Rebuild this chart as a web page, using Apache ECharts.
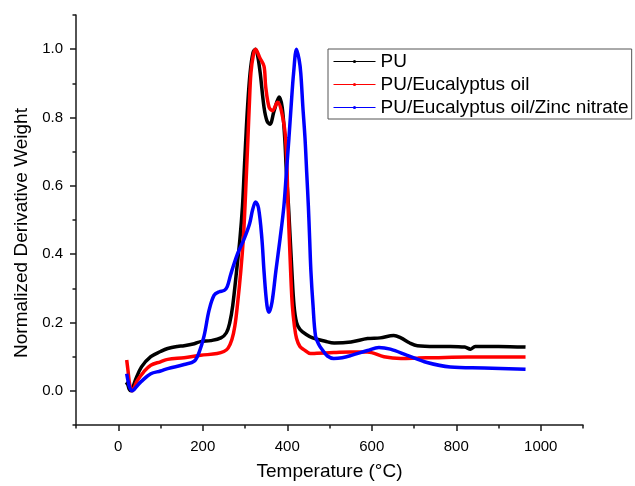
<!DOCTYPE html>
<html>
<head>
<meta charset="utf-8">
<script src="https://cdn.jsdelivr.net/npm/echarts@6/dist/echarts.min.js"></script>
<style>
  html, body { margin: 0; padding: 0; background: #fff; }
  #chart { width: 635px; height: 486px; }
</style>
</head>
<body>
<div id="chart"></div>
<script>
// temperatures (°C) and normalized DTG values
const puTemp = [18, 22, 26, 30, 40, 55, 77, 100, 117, 140, 156, 180, 195, 219, 243, 256, 264, 271, 280, 288, 294, 298, 302, 306, 312, 319, 325, 330, 336, 345, 352, 359, 369, 381, 388, 394, 398, 403, 411, 416, 422, 430, 445, 460, 490, 511, 551, 590, 620, 652, 669, 690, 708, 750, 786, 820, 834, 845, 900, 964];
const puVal = [0.025, 0.02, 0.005, 0.0, 0.03, 0.07, 0.10, 0.115, 0.124, 0.13, 0.132, 0.138, 0.144, 0.147, 0.155, 0.17, 0.20, 0.25, 0.35, 0.445, 0.54, 0.64, 0.74, 0.83, 0.93, 0.99, 1.0, 0.98, 0.93, 0.83, 0.79, 0.78, 0.82, 0.86, 0.83, 0.74, 0.64, 0.54, 0.35, 0.25, 0.20, 0.18, 0.165, 0.155, 0.145, 0.14, 0.143, 0.153, 0.155, 0.162, 0.155, 0.14, 0.132, 0.13, 0.13, 0.128, 0.122, 0.13, 0.13, 0.128];

const euTemp = [20, 23, 27, 33, 45, 60, 77, 100, 117, 156, 195, 234, 250, 260, 269, 276, 282, 290, 296, 300, 303.5, 307, 310, 314, 320, 325, 335, 345, 349, 357, 365, 377, 386, 396, 402, 408, 412, 417, 422, 430, 440, 455, 470, 510, 550, 590, 629, 669, 710, 747, 826, 900, 964];
const euVal = [0.09, 0.06, 0.02, 0.0, 0.03, 0.055, 0.075, 0.085, 0.092, 0.097, 0.104, 0.109, 0.115, 0.125, 0.15, 0.19, 0.25, 0.35, 0.445, 0.54, 0.64, 0.74, 0.83, 0.93, 0.985, 1.0, 0.975, 0.95, 0.89, 0.83, 0.82, 0.845, 0.82, 0.74, 0.54, 0.35, 0.25, 0.19, 0.153, 0.13, 0.12, 0.109, 0.11, 0.112, 0.114, 0.114, 0.10, 0.095, 0.096, 0.097, 0.099, 0.099, 0.099];

const znTemp = [20, 23, 27, 33, 45, 54, 77, 100, 117, 156, 180, 192, 203, 215, 227, 239, 251, 258, 266, 282, 298, 311, 318, 325, 332, 340, 345, 352, 357, 364, 373, 383, 392, 398, 404, 409, 415, 422, 428, 432, 437, 442, 446, 450, 453, 456, 461, 467, 475, 483, 495, 510, 530, 550, 590, 617, 644, 684, 731, 786, 866, 964];
const znVal = [0.05, 0.03, 0.01, 0.0, 0.015, 0.027, 0.05, 0.058, 0.065, 0.077, 0.087, 0.115, 0.16, 0.236, 0.28, 0.29, 0.294, 0.305, 0.34, 0.40, 0.445, 0.49, 0.53, 0.553, 0.535, 0.445, 0.35, 0.25, 0.23, 0.26, 0.35, 0.445, 0.54, 0.64, 0.74, 0.83, 0.93, 1.0, 0.97, 0.93, 0.83, 0.74, 0.64, 0.54, 0.445, 0.35, 0.25, 0.16, 0.135, 0.12, 0.102, 0.095, 0.097, 0.103, 0.118, 0.127, 0.122, 0.104, 0.083, 0.07, 0.067, 0.063];

const seriesNames = ['PU', 'PU/Eucalyptus oil', 'PU/Eucalyptus oil/Zinc nitrate'];
const seriesColors = ['#000000', '#ff0000', '#0000ff'];

const xMajor = [0, 200, 400, 600, 800, 1000];
const xMinor = [-100, 100, 300, 500, 700, 900, 1100];
const yMajor = [0, 0.2, 0.4, 0.6, 0.8, 1.0];
const yMinor = [-0.1, 0.1, 0.3, 0.5, 0.7, 0.9, 1.1];

const zip = (xs, ys) => xs.map((x, i) => [x, ys[i]]);
const allData = [zip(puTemp, puVal), zip(euTemp, euVal), zip(znTemp, znVal)];

const font = 'Liberation Sans, Arial, sans-serif';
const axisColor = '#1a1a1a';

let chart = echarts.init(document.getElementById('chart'));

const baseX = {
  type: 'value', min: -100, max: 1100, interval: 100,
  splitLine: { show: false }
};
const baseY = {
  type: 'value', min: -0.1, max: 1.1, interval: 0.1,
  splitLine: { show: false }
};

let option = {
  animation: false,
  backgroundColor: '#fff',
  grid: { left: 76, right: 52, top: 15, bottom: 59 },
  legend: {
    data: seriesNames,
    orient: 'vertical',
    left: 328, top: 49,
    padding: [3, 3, 2, 5],
    itemGap: 4,
    itemWidth: 42,
    itemHeight: 4,
    borderColor: '#555',
    borderWidth: 1,
    backgroundColor: '#fff',
    lineStyle: { width: 1 },
    textStyle: { fontFamily: font, fontSize: 19, color: '#000', lineHeight: 19 }
  },
  xAxis: [
    Object.assign({}, baseX, {
      name: 'Temperature (°C)',
      nameLocation: 'middle',
      nameGap: 37,
      nameTextStyle: { fontFamily: font, fontSize: 19, color: '#000' },
      axisLine: { show: true, onZero: false, lineStyle: { color: axisColor, width: 1.5 } },
      axisTick: { show: true, length: 6, customValues: xMajor, lineStyle: { color: axisColor, width: 1.5 } },
      axisLabel: {
        customValues: xMajor, margin: 14, fontFamily: font, fontSize: 15, color: '#000',
        formatter: v => String(v)
      }
    }),
    Object.assign({}, baseX, {
      position: 'bottom',
      axisLine: { show: false, onZero: false },
      axisTick: { show: true, length: 3.5, customValues: xMinor, lineStyle: { color: axisColor, width: 1.5 } },
      axisLabel: { show: false }
    })
  ],
  yAxis: [
    Object.assign({}, baseY, {
      name: 'Normalized Derivative Weight',
      nameLocation: 'middle',
      nameGap: 44,
      nameTextStyle: { fontFamily: font, fontSize: 19, color: '#000', padding: [0, 26, 0, 0] },
      axisLine: { show: true, onZero: false, lineStyle: { color: axisColor, width: 1.5 } },
      axisTick: { show: true, length: 6, customValues: yMajor, lineStyle: { color: axisColor, width: 1.5 } },
      axisLabel: {
        customValues: yMajor, margin: 13, fontFamily: font, fontSize: 15, color: '#000',
        formatter: v => v.toFixed(1)
      }
    }),
    Object.assign({}, baseY, {
      position: 'left',
      axisLine: { show: false, onZero: false },
      axisTick: { show: true, length: 3.5, customValues: yMinor, lineStyle: { color: axisColor, width: 1.5 } },
      axisLabel: { show: false }
    })
  ],
  series: allData.map((d, i) => ({
    name: seriesNames[i],
    type: 'line',
    xAxisIndex: 0,
    yAxisIndex: 0,
    data: d,
    smooth: 0.35,
    symbol: 'circle',
    showSymbol: false,
    color: seriesColors[i],
    lineStyle: { color: seriesColors[i], width: 3.5 },
    emphasis: { disabled: true }
  }))
};

option && chart.setOption(option);
</script>
</body>
</html>
